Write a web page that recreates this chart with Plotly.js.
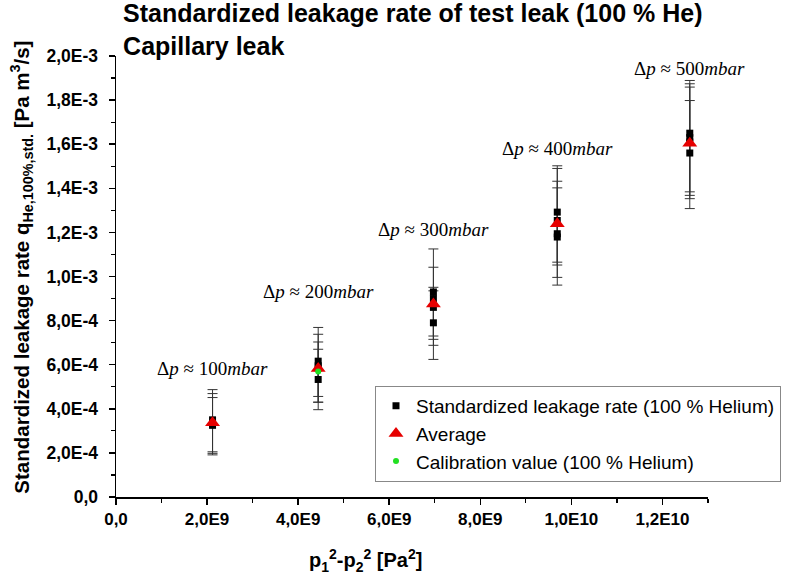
<!DOCTYPE html>
<html>
<head>
<meta charset="utf-8">
<script src="https://cdn.plot.ly/plotly-3.0.1.min.js"></script>
<style>html,body{margin:0;padding:0;background:#fff;}#chart{width:787px;height:581px;}</style>
</head>
<body>
<div id="chart"></div>
<script>
// ---- data ----
const groupX = [2.12e9, 4.44e9, 6.97e9, 9.69e9, 12.6e9];
const groupLabels = ["Δ<i>p</i> ≈ 100<i>mbar</i>", "Δ<i>p</i> ≈ 200<i>mbar</i>", "Δ<i>p</i> ≈ 300<i>mbar</i>", "Δ<i>p</i> ≈ 400<i>mbar</i>", "Δ<i>p</i> ≈ 500<i>mbar</i>"];
const labelY = [5.85e-4, 9.3e-4, 1.215e-3, 1.58e-3, 1.945e-3];

const measX = [2.12e9, 2.12e9, 2.12e9,
               4.44e9, 4.44e9, 4.44e9, 4.44e9,
               6.97e9, 6.97e9, 6.97e9, 6.97e9,
               9.69e9, 9.69e9, 9.69e9, 9.69e9,
               12.6e9, 12.6e9, 12.6e9, 12.6e9];
const measY = [3.50e-4, 3.35e-4, 3.25e-4,
               6.16e-4, 5.95e-4, 5.85e-4, 5.33e-4,
               9.30e-4, 9.00e-4, 8.60e-4, 7.90e-4,
               1.292e-3, 1.254e-3, 1.194e-3, 1.179e-3,
               1.650e-3, 1.630e-3, 1.610e-3, 1.560e-3];
const measErrPlus = [1.37e-4, 1.34e-4, 1.26e-4,
                     1.53e-4, 1.43e-4, 1.18e-4, 1.37e-4,
                     1.95e-4, 1.42e-4, 0.91e-4, 1.45e-4,
                     2.10e-4, 2.36e-4, 2.38e-4, 2.23e-4,
                     2.39e-4, 2.44e-4, 2.49e-4, 2.38e-4];
const measErrMinus = [1.45e-4, 1.37e-4, 1.34e-4,
                      1.60e-4, 1.65e-4, 1.55e-4, 1.37e-4,
                      2.00e-4, 1.85e-4, 1.72e-4, 1.66e-4,
                      2.27e-4, 2.02e-4, 1.98e-4, 2.18e-4,
                      2.66e-4, 2.62e-4, 2.57e-4, 2.52e-4];

const avgY = [3.37e-4, 5.83e-4, 8.75e-4, 1.239e-3, 1.604e-3];

const calX = [4.44e9];
const calY = [5.69e-4];

const xTickVals = [0, 2e9, 4e9, 6e9, 8e9, 1e10, 1.2e10];
const xTickText = ["0,0", "2,0E9", "4,0E9", "6,0E9", "8,0E9", "1,0E10", "1,2E10"];
const yTickVals = [0, 2e-4, 4e-4, 6e-4, 8e-4, 1e-3, 1.2e-3, 1.4e-3, 1.6e-3, 1.8e-3, 2e-3];
const yTickText = ["0,0", "2,0E-4", "4,0E-4", "6,0E-4", "8,0E-4", "1,0E-3", "1,2E-3", "1,4E-3", "1,6E-3", "1,8E-3", "2,0E-3"];

const xTitle = "p<sub>1</sub><sup>2</sup>-p<sub>2</sub><sup>2</sup> [Pa<sup>2</sup>]";
const yTitle = "Standardized leakage rate q<sub>He,100%,std.</sub> [Pa m<sup>3</sup>/s]";

// ---- chart ----
const sans = "Liberation Sans, Arial, sans-serif";
const serif = "Liberation Serif, Times New Roman, serif";

const traces = [
  {
    type: "scatter", mode: "markers", name: "Standardized leakage rate (100 % Helium)",
    x: measX, y: measY,
    marker: {symbol: "square", size: 7, color: "#000"},
    error_y: {type: "data", symmetric: false, array: measErrPlus, arrayminus: measErrMinus,
              color: "#333", thickness: 1, width: 5}
  },
  {
    type: "scatter", mode: "markers", name: "Average",
    x: groupX, y: avgY,
    marker: {symbol: "triangle-up", size: 13, color: "#e60000"}
  },
  {
    type: "scatter", mode: "markers", name: "Calibration value (100 % Helium)",
    x: calX, y: calY,
    marker: {symbol: "circle", size: 6, color: "#22e022"}
  }
];

const annotations = groupX.map((x, i) => ({
  x: x, y: labelY[i], xref: "x", yref: "y", text: groupLabels[i],
  showarrow: false, font: {family: serif, size: 19, color: "#000"}
}));
// axis titles placed as in the reference (off-centre x title)
annotations.push({
  xref: "paper", yref: "paper", x: 0.422, y: -0.143, xanchor: "center", yanchor: "middle",
  text: xTitle, showarrow: false,
  font: {family: sans, size: 20, weight: "bold", color: "#000"}
});
annotations.push({
  xref: "paper", yref: "paper", x: -0.159, y: 0.522, xanchor: "center", yanchor: "middle",
  text: yTitle, textangle: -90, showarrow: false,
  font: {family: sans, size: 20.5, weight: "bold", color: "#000"}
});

const layout = {
  width: 787, height: 581,
  margin: {l: 116, r: 79, t: 56, b: 84, autoexpand: false},
  paper_bgcolor: "#fff", plot_bgcolor: "#fff",
  font: {family: sans, color: "#000"},
  showlegend: true,
  title: {
    text: "Standardized leakage rate of test leak (100 % He)<br>Capillary leak",
    font: {family: sans, size: 25, weight: "bold", color: "#000"},
    xref: "paper", x: 0.012, xanchor: "left",
    yref: "container", y: 0.962, yanchor: "top"
  },
  xaxis: {
    range: [0, 1.3e10], showgrid: false, zeroline: false,
    showline: true, linecolor: "#000", linewidth: 1.5, mirror: false,
    ticks: "outside", ticklen: 6, tickwidth: 1.5, tickcolor: "#000",
    tickmode: "array", tickvals: xTickVals, ticktext: xTickText,
    tickfont: {family: sans, size: 17, weight: "bold", color: "#000"},
    minor: {tickmode: "linear", tick0: 0, dtick: 1e9, ticks: "outside", ticklen: 4, tickwidth: 1.2, tickcolor: "#000", showgrid: false},
    title: {text: ""}
  },
  yaxis: {
    range: [0, 2e-3], showgrid: false, zeroline: false,
    showline: true, linecolor: "#000", linewidth: 1.5, mirror: false,
    ticks: "outside", ticklen: 6, tickwidth: 1.5, tickcolor: "#000",
    ticklabelstandoff: 7,
    tickmode: "array", tickvals: yTickVals, ticktext: yTickText,
    tickfont: {family: sans, size: 17.5, weight: "bold", color: "#000"},
    minor: {tickmode: "linear", tick0: 0, dtick: 1e-4, ticks: "outside", ticklen: 4, tickwidth: 1.2, tickcolor: "#000", showgrid: false},
    title: {text: ""}
  },
  legend: {
    x: 0.4375, y: 0.252, xanchor: "left", yanchor: "top",
    xref: "paper", yref: "paper",
    bgcolor: "#fff", bordercolor: "#888", borderwidth: 1,
    font: {family: sans, size: 19, color: "#000"},
    tracegroupgap: 0, itemsizing: "trace"
  },
  annotations: annotations
};

Plotly.newPlot("chart", traces, layout, {displayModeBar: false, staticPlot: true});
</script>
</body>
</html>
